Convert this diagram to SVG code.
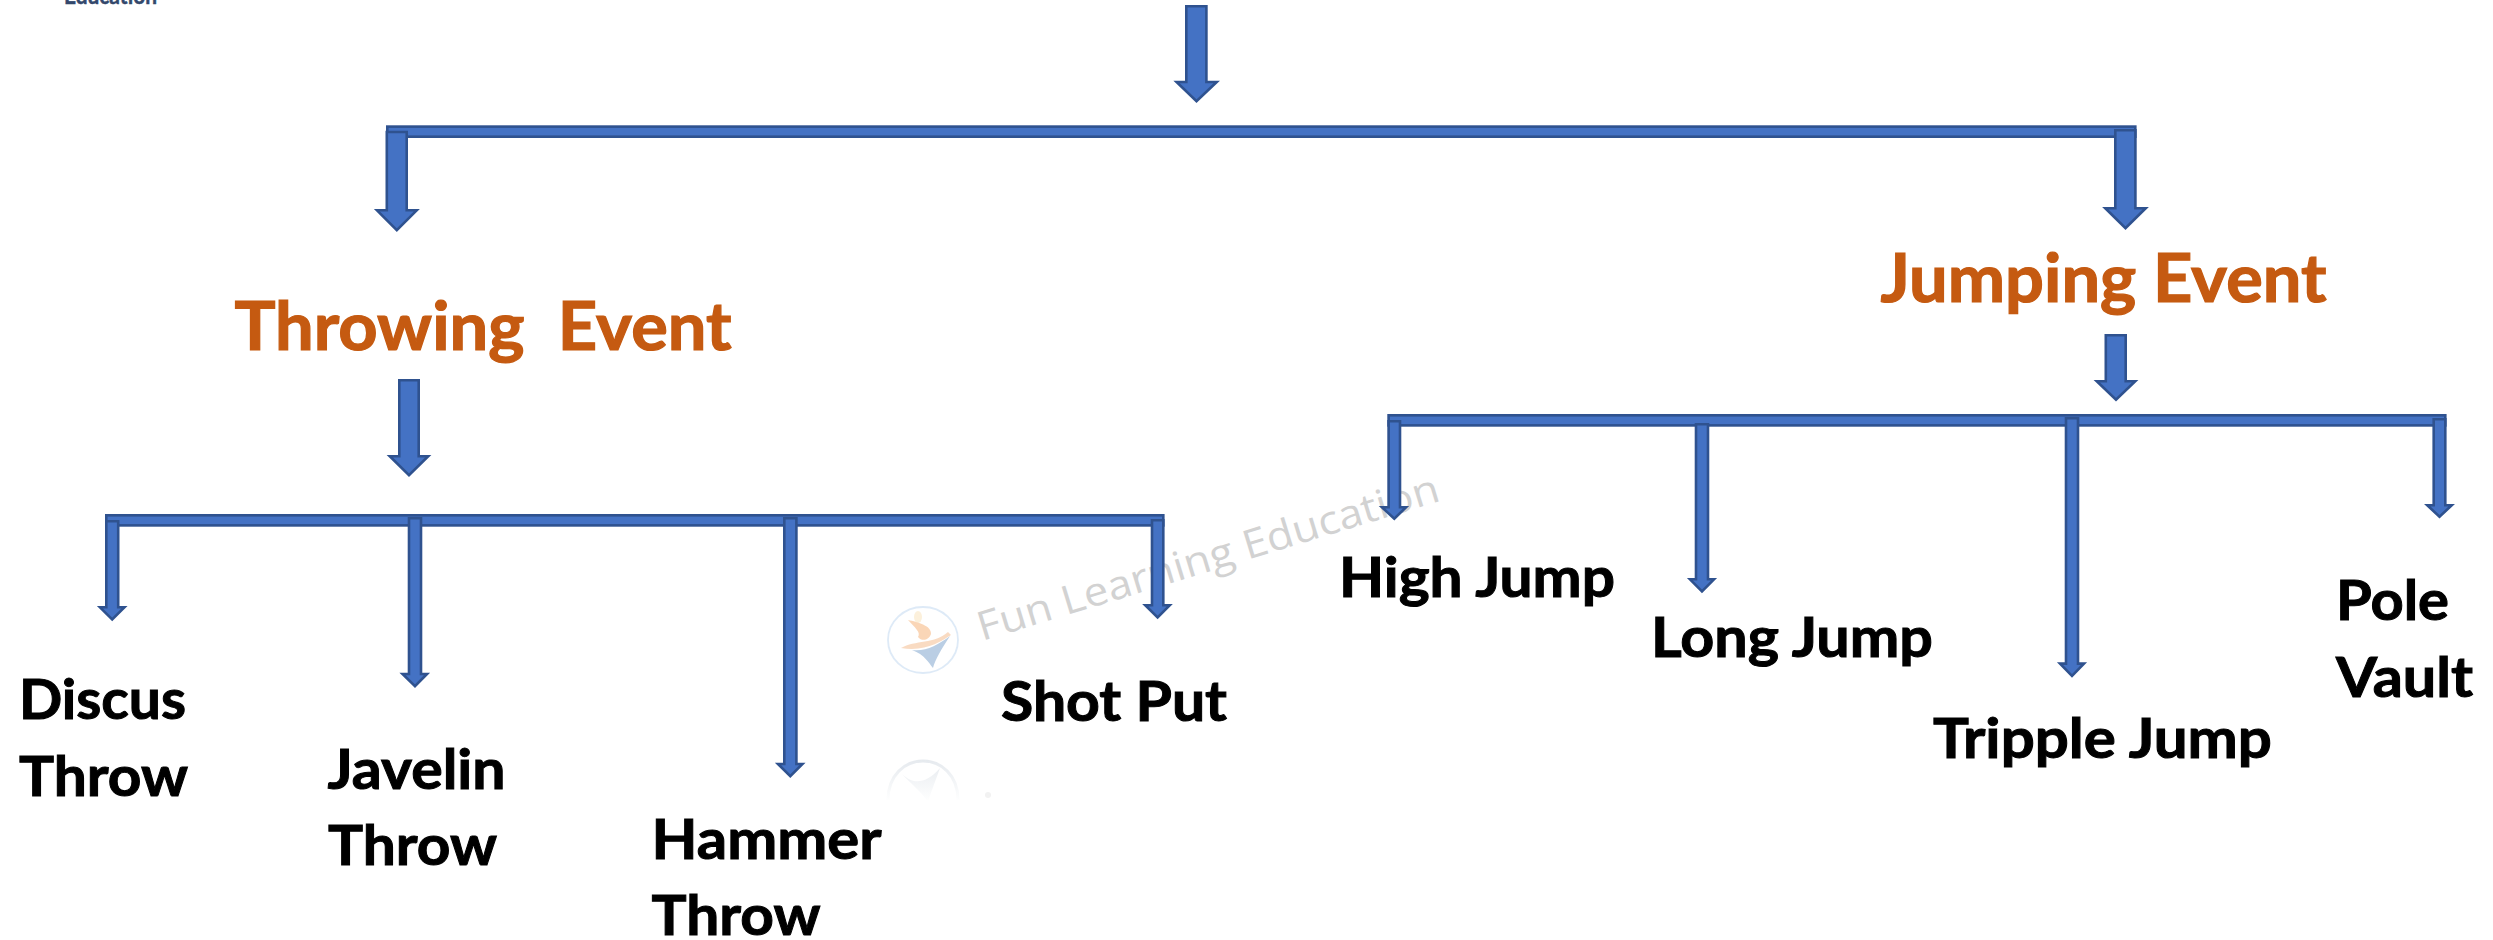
<svg xmlns="http://www.w3.org/2000/svg" width="2493" height="940" viewBox="0 0 2493 940">
  <style>
    .c { fill: #4472C4; stroke: #2F528F; stroke-width: 2.6; stroke-linejoin: miter; stroke-miterlimit: 8; }
    .t { font-family: "Lato", "Open Sans", "Liberation Sans", sans-serif; font-weight: 700; fill: #000; stroke: #000; stroke-width: 1; font-size: 56px; }
    .h { font-family: "Lato", "Open Sans", "Liberation Sans", sans-serif; font-weight: 700; fill: #C55A11; stroke: #C55A11; stroke-width: 1.2; font-size: 66px; }
  </style>
  <defs>
    <linearGradient id="fade" gradientUnits="userSpaceOnUse" x1="0" y1="758" x2="0" y2="802">
      <stop offset="0" stop-color="#d3dae2" stop-opacity=".6"/>
      <stop offset="1" stop-color="#d3dae2" stop-opacity="0"/>
    </linearGradient>
  </defs>
  <rect width="2493" height="940" fill="#fff"/>

  <g id="watermark">
    <text x="64" y="3.5" font-family="Lato, 'Open Sans', sans-serif" font-weight="700" font-size="24" fill="#33486C" stroke="#33486C" stroke-width=".5" textLength="93" lengthAdjust="spacingAndGlyphs">Education</text>
    <g id="logo" opacity=".75">
      <ellipse cx="923" cy="640" rx="35" ry="33" fill="none" stroke="#d3e4f5" stroke-width="1.8"/>
      <ellipse cx="918" cy="617" rx="4" ry="6" fill="#fbeccf"/>
      <path d="M908,620 C918,622 932,626 931,634 C929,640 922,642 918,637 C921,632 915,628 908,620 Z" fill="#f9c9a0"/>
      <path d="M901,648 C915,640 935,644 948,632 L951,635 C940,642 925,652 901,648 Z" fill="#f8cfae"/>
      <path d="M912,650 C925,652 938,645 950,636 C942,648 935,660 933,668 C928,662 925,655 912,650 Z" fill="#a3bedb"/>
    </g>
    <text transform="translate(982 641) rotate(-17)" font-family="'Open Sans', 'Noto Sans', sans-serif" font-size="40" fill="#d2d2d2" textLength="481" lengthAdjust="spacingAndGlyphs">Fun Learning Education</text>
    <g id="logo-reflection" fill="none">
      <path d="M888,800 C888,775 905,761 923,761 C941,761 958,775 958,800" stroke="url(#fade)" stroke-width="3"/>
      <path d="M900,772 C912,785 925,785 940,768 C935,782 930,795 928,802 C920,790 912,785 900,772 Z" fill="url(#fade)"/>
      <circle cx="988" cy="795" r="3" fill="#f2f2f2"/>
    </g>
  </g>

  <g id="connectors">
    <rect class="c" x="387.3" y="126.6" width="1748" height="10.1"/>
    <rect class="c" x="106.3" y="515.3" width="1057" height="10.1"/>
    <rect class="c" x="1388.6" y="415.3" width="1056.7" height="10.1"/>
    <polygon class="c" points="1186.3,6.3 1206.4,6.3 1206.4,82 1216.7,82 1196.5,101.1 1176.6,82 1186.3,82"/>
    <polygon class="c" points="386.8,132 406.7,132 406.7,210.3 416.7,210.3 396.8,230.1 377,210.3 386.8,210.3"/>
    <polygon class="c" points="2115.3,130.3 2135.4,130.3 2135.4,208.3 2145.7,208.3 2125.5,228.1 2105.3,208.3 2115.3,208.3"/>
    <polygon class="c" points="399.3,380.3 418.7,380.3 418.7,456.3 428.2,456.3 409,475.1 389.8,456.3 399.3,456.3"/>
    <polygon class="c" points="2105.8,335.3 2125.7,335.3 2125.7,381.3 2135.2,381.3 2116,399.8 2096.8,381.3 2105.8,381.3"/>
    <polygon class="c" points="106.3,521.3 118.2,521.3 118.2,607.3 124.4,607.3 112.2,619.4 100,607.3 106.3,607.3"/>
    <polygon class="c" points="409,518.3 421,518.3 421,674 427,674 415,686.1 402.6,674 409,674"/>
    <polygon class="c" points="784.3,518.3 796.4,518.3 796.4,764 802.4,764 790.3,776.1 778,764 784.3,764"/>
    <polygon class="c" points="1152,520.3 1163.3,520.3 1163.3,605.3 1169.7,605.3 1157.6,617.4 1145.3,605.3 1152,605.3"/>
    <polygon class="c" points="1388.6,421.3 1400,421.3 1400,507.3 1406,507.3 1394.3,518.8 1382,507.3 1388.6,507.3"/>
    <polygon class="c" points="1696,424.3 1708,424.3 1708,579.3 1714,579.3 1702,591.4 1690,579.3 1696,579.3"/>
    <polygon class="c" points="2066,418.3 2078,418.3 2078,663.6 2084,663.6 2072,675.8 2060,663.6 2066,663.6"/>
    <polygon class="c" points="2433.7,419.3 2445.3,419.3 2445.3,505.3 2451.7,505.3 2439.5,516.8 2427.3,505.3 2433.7,505.3"/>
  </g>

  <g id="throwing-event"><text class="h" x="234.5" y="350" textLength="497" lengthAdjust="spacingAndGlyphs" xml:space="preserve">Throwing  Event</text></g>
  <g id="jumping-event"><text class="h" x="1880.5" y="301.5" textLength="446" lengthAdjust="spacingAndGlyphs">Jumping Event</text></g>
  <g id="discus-throw">
    <text class="t" x="19" y="719" textLength="167" lengthAdjust="spacingAndGlyphs">Discus</text>
    <text class="t" x="19" y="796" textLength="169" lengthAdjust="spacingAndGlyphs">Throw</text>
  </g>
  <g id="javelin-throw">
    <text class="t" x="327.5" y="789" textLength="178" lengthAdjust="spacingAndGlyphs">Javelin</text>
    <text class="t" x="328" y="865" textLength="169" lengthAdjust="spacingAndGlyphs">Throw</text>
  </g>
  <g id="hammer-throw">
    <text class="t" x="651.5" y="859" textLength="230" lengthAdjust="spacingAndGlyphs">Hammer</text>
    <text class="t" x="651.5" y="935" textLength="169" lengthAdjust="spacingAndGlyphs">Throw</text>
  </g>
  <g id="shot-put"><text class="t" x="1001" y="721" textLength="226" lengthAdjust="spacingAndGlyphs">Shot Put</text></g>
  <g id="high-jump"><text class="t" x="1339" y="597" textLength="276" lengthAdjust="spacingAndGlyphs">High Jump</text></g>
  <g id="long-jump"><text class="t" x="1651" y="657" textLength="282" lengthAdjust="spacingAndGlyphs">Long Jump</text></g>
  <g id="tripple-jump"><text class="t" x="1933" y="758" textLength="339" lengthAdjust="spacingAndGlyphs">Tripple Jump</text></g>
  <g id="pole-vault">
    <text class="t" x="2336" y="620" textLength="113" lengthAdjust="spacingAndGlyphs">Pole</text>
    <text class="t" x="2336" y="697" textLength="137" lengthAdjust="spacingAndGlyphs">Vault</text>
  </g>
</svg>
